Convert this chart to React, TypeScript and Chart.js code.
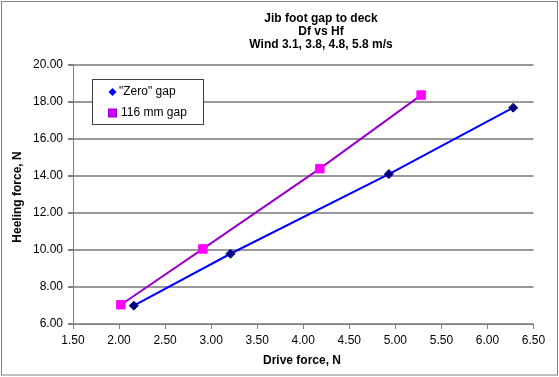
import React, { useEffect, useRef } from 'react';
import { Chart, registerables } from 'chart.js';

Chart.register(...registerables);

const titleLines = ['Jib foot gap to deck', 'Df vs Hf', 'Wind 3.1, 3.8, 4.8, 5.8 m/s'];
const xAxisTitle = 'Drive force, N';
const yAxisTitle = 'Heeling force, N';
const seriesNames = ['"Zero" gap', '116 mm gap'];

const zeroGapDrive = [2.16, 3.21, 4.93, 6.28];
const zeroGapHeel = [6.99, 9.79, 14.09, 17.67];
const wideGapDrive = [2.02, 2.91, 4.18, 5.28];
const wideGapHeel = [7.04, 10.05, 14.38, 18.35];

const xMin = 1.5;
const xMax = 6.5;
const xStep = 0.5;
const yMin = 6;
const yMax = 20;
const yStep = 2;

const FONT = '"Liberation Sans", Arial, sans-serif';

const overlayPlugin = {
  id: 'overlay',
  afterDatasetsDraw(chart: any) {
    const ctx = chart.ctx;
    ctx.save();
    // titles
    ctx.fillStyle = '#000';
    ctx.font = `bold 12px ${FONT}`;
    ctx.textAlign = 'center';
    ctx.textBaseline = 'middle';
    const tys = [18.5, 31.5, 45];
    titleLines.forEach((t, i) => ctx.fillText(t, 321, tys[i]));
    ctx.fillText(xAxisTitle, 302, 361);
    ctx.save();
    ctx.translate(18, 197);
    ctx.rotate(-Math.PI / 2);
    ctx.fillText(yAxisTitle, 0, 0);
    ctx.restore();

    // legend
    ctx.fillStyle = '#fff';
    ctx.fillRect(92.5, 79.5, 111, 45);
    ctx.strokeStyle = '#404040';
    ctx.lineWidth = 1;
    ctx.strokeRect(92.5, 79.5, 111, 45);
    // diamond
    ctx.fillStyle = '#0000FF';
    ctx.beginPath();
    ctx.moveTo(112.5, 88);
    ctx.lineTo(116.5, 92);
    ctx.lineTo(112.5, 96);
    ctx.lineTo(108.5, 92);
    ctx.closePath();
    ctx.fill();
    // square
    ctx.fillStyle = '#CC00FF';
    ctx.fillRect(108.5, 109, 8, 8);
    ctx.strokeStyle = '#9900CC';
    ctx.strokeRect(108.5, 109, 8, 8);
    ctx.fillStyle = '#000';
    ctx.font = `12px ${FONT}`;
    ctx.textAlign = 'left';
    ctx.fillText(seriesNames[0], 119, 92);
    ctx.fillText(seriesNames[1], 121, 113);

    // outer border
    ctx.strokeStyle = '#808080';
    ctx.lineWidth = 1;
    ctx.strokeRect(1.5, 1.5, 556, 373.5);
    ctx.restore();
  },
};

export default function App() {
  const ref = useRef<HTMLCanvasElement>(null);
  useEffect(() => {
    document.body.style.margin = '0';
    const canvas = ref.current!;
    const chart = new Chart(canvas, {
      type: 'scatter',
      data: {
        datasets: [
          {
            label: seriesNames[0],
            data: zeroGapDrive.map((x, i) => ({ x, y: zeroGapHeel[i] })),
            showLine: true,
            borderColor: '#0000FF',
            borderWidth: 2,
            pointStyle: 'rectRot',
            pointRadius: 4.5,
            pointBackgroundColor: '#000080',
            pointBorderColor: '#000080',
            pointBorderWidth: 1,
          },
          {
            label: seriesNames[1],
            data: wideGapDrive.map((x, i) => ({ x, y: wideGapHeel[i] })),
            showLine: true,
            borderColor: '#9900CC',
            borderWidth: 2,
            pointStyle: 'rect',
            pointRadius: 6,
            pointBackgroundColor: '#FF00FF',
            pointBorderColor: '#FF00FF',
            pointBorderWidth: 1,
          },
        ],
      },
      options: {
        responsive: false,
        animation: false,
        devicePixelRatio: 1,
        layout: { padding: { top: 64.5, left: 0, right: 25.5, bottom: 0 } },
        plugins: {
          legend: { display: false },
          title: { display: false },
          tooltip: { enabled: false },
        },
        scales: {
          x: {
            type: 'linear',
            min: xMin,
            max: xMax,
            ticks: {
              stepSize: xStep,
              color: '#000',
              font: { family: FONT, size: 12 },
              padding: 4,
              callback: (v: any) => Number(v).toFixed(2),
            },
            grid: {
              drawOnChartArea: false,
              drawTicks: true,
              tickLength: 5,
              tickColor: '#808080',
            },
            border: { color: '#808080', width: 1 },
            afterFit: (s: any) => {
              s.height = 53;
            },
          },
          y: {
            type: 'linear',
            min: yMin,
            max: yMax,
            ticks: {
              stepSize: yStep,
              color: '#000',
              font: { family: FONT, size: 12 },
              padding: 5,
              callback: (v: any) => Number(v).toFixed(2),
            },
            grid: {
              color: '#999999',
              lineWidth: 2,
              drawTicks: true,
              tickLength: 5,
              tickColor: '#808080',
            },
            border: { color: '#808080', width: 1 },
            afterFit: (s: any) => {
              s.width = 73;
            },
          },
        },
      },
      plugins: [overlayPlugin],
    });
    return () => chart.destroy();
  }, []);
  return <canvas ref={ref} width={559} height={377} style={{ display: 'block', width: 559, height: 377 }} />;
}
